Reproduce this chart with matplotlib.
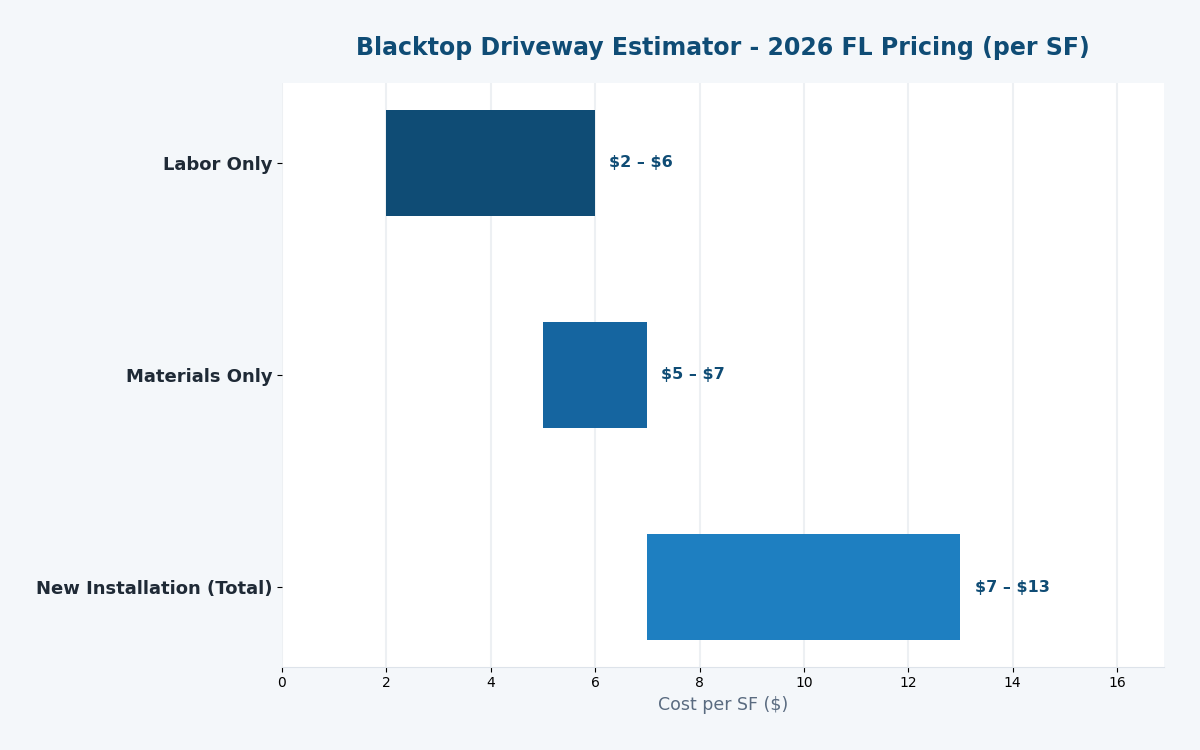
import matplotlib.pyplot as plt

# cost ranges per square foot
categories = ["Labor Only", "Materials Only", "New Installation (Total)"]
low = [2, 5, 7]
high = [6, 7, 13]
colors = ["#0f4c75", "#1565a0", "#1e7fc1"]

fig = plt.figure(figsize=(12, 7.5), dpi=100, facecolor="#f4f7fa")
ax = fig.add_axes([0.235, 0.111, 0.735, 0.778])
ax.set_facecolor("white")

widths = [h - l for l, h in zip(low, high)]
ax.barh(categories, widths, left=low, height=0.5, color=colors, zorder=3)
ax.invert_yaxis()

for i, (l, h) in enumerate(zip(low, high)):
    ax.text(h + 0.27, i, f"\\${l} – \\${h}", va="center", ha="left",
            fontsize=11.5, fontweight="bold", color="#0f4c75", zorder=4)

ax.set_xlim(0, max(high) * 1.3)
ax.set_title("Blacktop Driveway Estimator - 2026 FL Pricing (per SF)",
             fontsize=17, fontweight="bold", color="#0f4c75", pad=20)
ax.set_xlabel("Cost per SF (\\$)", fontsize=12.5, color="#5a6b80")
ax.grid(axis="x", color="#edf0f3", linewidth=1.5, zorder=0)
for s in ["top", "right", "left"]:
    ax.spines[s].set_visible(False)
ax.spines["bottom"].set_color("#dde3ea")
ax.tick_params(axis="y", labelsize=13, labelcolor="#1f2a36")
ax.tick_params(axis="x", labelsize=10)
for lbl in ax.get_yticklabels():
    lbl.set_fontweight("bold")

fig.savefig("out.png", dpi=100, facecolor=fig.get_facecolor())
